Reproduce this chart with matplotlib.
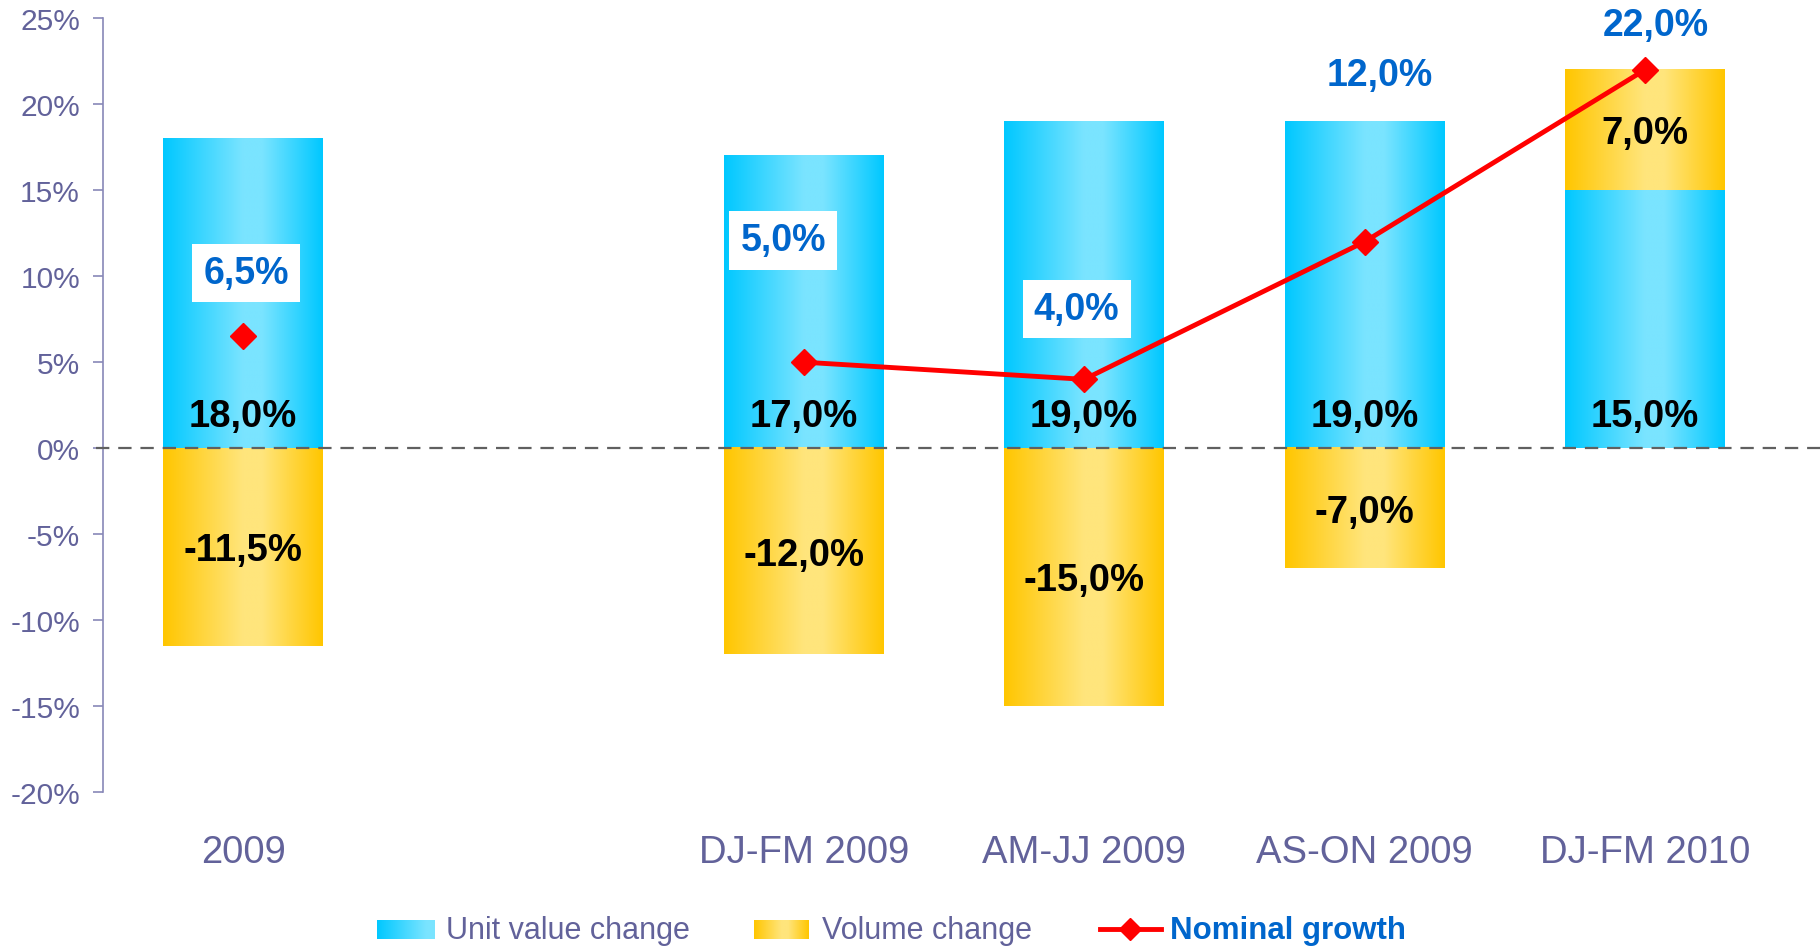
import numpy as np
import matplotlib.pyplot as plt
from matplotlib.colors import LinearSegmentedColormap
from matplotlib.lines import Line2D

plt.rcParams['font.family'] = ['Liberation Sans', 'DejaVu Sans']

categories = ["2009", "", "DJ-FM 2009", "AM-JJ 2009", "AS-ON 2009", "DJ-FM 2010"]
unit_value = [18.0, np.nan, 17.0, 19.0, 19.0, 15.0]
volume = [-11.5, np.nan, -12.0, -15.0, -7.0, 7.0]
nominal = [6.5, np.nan, 5.0, 4.0, 12.0, 22.0]
yticks = [-20, -15, -10, -5, 0, 5, 10, 15, 20, 25]

# where the nominal labels sit (relative to the point), and which get a white box
nom_dx = [0.01, 0, -0.073, -0.027, 0.054, 0.04]
nom_dy = [3.1, 0, 6.5, 3.5, 9.1, 2.0]
nom_box = [True, False, True, True, False, False]

AXIS_TXT = '#62629a'
BLUE = '#0066cc'

cyan = LinearSegmentedColormap.from_list('cy', [(0, '#00c8ff'), (0.5, '#7ae4ff'), (0.62, '#7ae4ff'), (1, '#00c8ff')])
gold = LinearSegmentedColormap.from_list('go', [(0, '#ffc600'), (0.5, '#ffe57c'), (0.62, '#ffe57c'), (1, '#ffc600')])
grad = np.linspace(0, 1, 256).reshape(1, -1)


def pct(v):
    return f"{v:.1f}".replace('.', ',') + '%'


def fill_gradient(ax, bars, cmap):
    for b in bars:
        h = b.get_height()
        if np.isnan(h):
            continue
        x0, y0, w = b.get_x(), b.get_y(), b.get_width()
        ax.imshow(grad, cmap=cmap, extent=[x0, x0 + w, y0, y0 + h],
                  aspect='auto', zorder=2, interpolation='bilinear')


fig = plt.figure(figsize=(18.2, 9.53), dpi=100)
ax = fig.add_axes([103 / 1820, 1 - 793 / 953, 1682 / 1820, (793 - 19.3) / 953])

x = np.arange(len(categories))
w = 0.57
vol_bottom = [u if v > 0 else 0 for u, v in zip(unit_value, volume)]

bars_u = ax.bar(x, unit_value, width=w, color='#00c8ff', linewidth=0, zorder=1)
bars_v = ax.bar(x, volume, width=w, bottom=vol_bottom, color='#ffc600', linewidth=0, zorder=1)
fill_gradient(ax, bars_u, cyan)
fill_gradient(ax, bars_v, gold)

ax.axhline(0, xmin=-0.004, xmax=1.03, color='#606060', lw=1.6, dashes=(6, 4),
           clip_on=False, zorder=3)

ax.plot(x, nominal, color='#ff0000', lw=3.5, marker='D', ms=13, zorder=5)

for i in range(len(categories)):
    if np.isnan(unit_value[i]):
        continue
    ax.text(x[i], 1.3, pct(unit_value[i]), ha='center', va='baseline',
            fontsize=27.5, fontweight='bold', color='black', zorder=6)
    mid = vol_bottom[i] + volume[i] / 2
    ax.text(x[i], mid - 0.78, pct(volume[i]), ha='center', va='baseline',
            fontsize=27.5, fontweight='bold', color='black', zorder=6)
    bb = dict(boxstyle='square,pad=0.3', facecolor='white', edgecolor='none') if nom_box[i] else None
    ax.text(x[i] + nom_dx[i], nominal[i] + nom_dy[i], pct(nominal[i]), ha='center',
            va='baseline', fontsize=27, fontweight='bold', color=BLUE,
            bbox=bb, zorder=7, clip_on=False)

ax.set_xlim(-0.5, len(categories) - 0.5)
ax.set_ylim(-20, 25)
ax.set_yticks(yticks)
ax.set_yticklabels([f"{t}%" for t in yticks])
ax.set_xticks(x)
ax.set_xticklabels(categories)
ax.tick_params(axis='y', direction='out', length=7.5, width=1.2, color='#8888b8',
               labelsize=21.5, labelcolor=AXIS_TXT, pad=9)
ax.tick_params(axis='x', length=0, labelsize=27.5, labelcolor=AXIS_TXT, pad=30)
for s in ['top', 'right', 'bottom']:
    ax.spines[s].set_visible(False)
ax.spines['left'].set_color('#8888b8')
ax.spines['left'].set_linewidth(1.2)

# legend drawn in pixel space along the bottom
lg = fig.add_axes([0, 0, 1, 1], zorder=10)
lg.axis('off')
lg.imshow(grad[:, :150], cmap=cyan, vmin=0, vmax=1, extent=[377, 435, 940, 921], aspect='auto')
lg.imshow(grad, cmap=gold, extent=[754, 809, 940, 921], aspect='auto')
lg.set_xlim(0, 1820)
lg.set_ylim(953, 0)
lg.add_line(Line2D([1100, 1161], [930, 930], color='#ff0000', lw=3.5))
lg.add_line(Line2D([1130], [930], color='#ff0000', marker='D', ms=11.5, lw=0))
lg.text(446, 931, 'Unit value change', va='center', ha='left', fontsize=22, color=AXIS_TXT)
lg.text(822, 931, 'Volume change', va='center', ha='left', fontsize=22, color=AXIS_TXT)
lg.text(1170, 931, 'Nominal growth', va='center', ha='left', fontsize=22.5,
        fontweight='bold', color=BLUE)

fig.savefig('out.png', dpi=100, facecolor='white')
